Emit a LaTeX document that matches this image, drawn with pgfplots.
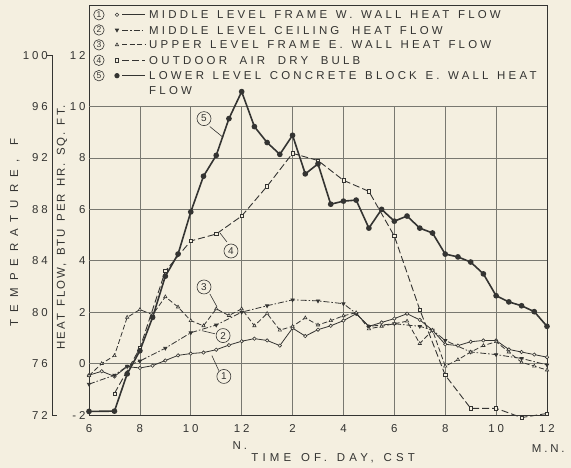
\documentclass[border=0pt]{standalone}
\usepackage{fontspec}
\setmainfont{Liberation Sans}[LetterSpace=25, WordSpace=1.35]
\newfontfamily\plainsf{Liberation Sans}
\usepackage{pgfplots}
\pgfplotsset{compat=1.18}
\usetikzlibrary{backgrounds,calc}
\definecolor{paper}{RGB}{244,239,224}
\definecolor{ink}{RGB}{52,52,50}
\definecolor{gridc}{RGB}{120,120,112}
\newcommand\lett{\fontsize{11.5}{13}\selectfont}
\tikzset{
  numc/.style={draw=ink, line width=0.6bp, circle, minimum size=14bp, inner sep=0pt, font=\plainsf\fontsize{10}{10}\selectfont, text=ink, fill=paper},
  lnumc/.style={draw=ink, line width=0.6bp, circle, minimum size=10.5bp, inner sep=0pt, font=\plainsf\fontsize{8.5}{8.5}\selectfont, text=ink},
  legt/.style={anchor=west, inner sep=0pt, font=\lett\addfontfeatures{LetterSpace=28}, text=ink, text height=8.2bp, text depth=0pt},
  ttl/.style={anchor=east, inner sep=0pt, font=\lett, text=ink},
  leader/.style={draw=ink, line width=0.6bp},
}
\pgfplotsset{
  s1/.style={draw=ink, line width=0.8bp, mark=*, mark size=1.7bp, mark options={solid, fill=paper, draw=ink, line width=0.6bp}},
  s2/.style={draw=ink, line width=0.8bp, dash pattern=on 6bp off 2bp on 1.5bp off 2bp, mark=triangle*, mark size=1.8bp, mark options={solid, rotate=180, fill=ink, draw=ink}},
  s3/.style={draw=ink, line width=0.8bp, dash pattern=on 5bp off 2.5bp, mark=triangle*, mark size=1.9bp, mark options={solid, fill=paper, draw=ink, line width=0.6bp}},
  s4/.style={draw=ink, line width=0.9bp, dash pattern=on 7bp off 3bp, mark=square*, mark size=1.6bp, mark options={solid, fill=paper, draw=ink, line width=0.6bp}},
  s5/.style={draw=ink, line width=1.6bp, mark=*, mark size=2bp, mark options={solid, fill=ink, draw=ink}},
}
\begin{document}
\begin{tikzpicture}
\begin{axis}[name=main, scale only axis, width=458bp, height=410bp,
  xmin=6, xmax=24, ymin=-2, ymax=13.95, clip=false,
  axis line style={draw=ink, line width=0.9bp},
  xtick={6,8,...,24}, xticklabels={6,8,10,12,2,4,6,8,10,12},
  ytick={-2,0,...,12},
  major tick length=0pt,
  /pgf/number format/assume math mode=true,
  tick label style={font=\lett, text=ink},
  xticklabel style={yshift=-6bp},
  xlabel={\addfontfeatures{LetterSpace=36}TIME OF.\ DAY, CST},
  xlabel style={at={(rel axis cs:0.533,0)}, anchor=center, yshift=-43bp, font=\lett, text=ink},
  ylabel={\addfontfeatures{LetterSpace=18}HEAT FLOW, BTU PER HR.\ SQ.\ FT.},
  ylabel style={at={([xshift=-27bp]axis cs:6,5.3)}, anchor=center, font=\lett, text=ink},
]
% grid
\pgfplotsinvokeforeach{8,10,...,22}{\draw[gridc, line width=0.6bp] (axis cs:#1,-2) -- (axis cs:#1,10);}
\pgfplotsinvokeforeach{0,2,...,10}{\draw[gridc, line width=0.6bp] (axis cs:6,#1) -- (axis cs:24,#1);}

% 1 middle level frame W wall
\addplot[s1] coordinates {
(6,-0.45)(6.5,-0.3)(7,-0.5)(7.5,-0.12)(8,-0.17)(8.5,-0.08)(9,0.12)(9.5,0.32)(10,0.39)(10.5,0.43)
(11,0.54)(11.5,0.72)(12,0.87)(12.5,0.97)(13,0.9)(13.5,0.7)(14,1.38)(14.5,1.07)(15,1.32)(15.5,1.47)
(16,1.67)(16.5,1.94)(17,1.45)(17.5,1.6)(18,1.75)(18.5,1.94)(19,1.7)(19.5,1.3)(20,0.75)(20.5,0.7)
(21,0.85)(21.5,0.9)(22,0.9)(22.5,0.55)(23,0.45)(23.5,0.35)(24,0.25)};
% 2 middle level ceiling
\addplot[s2] coordinates {
(6,-0.8)(7,-0.45)(7.5,-0.1)(8,0.1)(9,0.6)(10,1.2)(11,1.5)(12,2.0)(13,2.25)(14,2.48)(15,2.44)
(16,2.33)(16.5,1.95)(17,1.45)(18,1.55)(19,1.45)(19.5,1.3)(20,0.9)(21,0.45)(22,0.35)(23,0.2)(24,-0.05)};
% 3 upper level frame E wall
\addplot[s3] coordinates {
(6,-0.47)(6.5,0.0)(7,0.31)(7.5,1.8)(8,2.1)(8.5,1.9)(9,2.6)(9.5,2.2)(10,1.67)(10.5,1.47)
(11,2.13)(11.5,1.87)(12,2.13)(12.5,1.47)(13,1.95)(13.5,1.3)(14,1.45)(14.5,1.78)(15,1.5)(15.5,1.67)
(16,1.86)(16.5,1.98)(17,1.35)(17.5,1.45)(18,1.55)(18.5,1.65)(19,0.78)(19.5,1.3)(20,-0.1)(20.5,0.15)
(21,0.45)(21.5,0.7)(22,0.85)(22.5,0.45)(23,0.05)(23.5,-0.1)(24,-0.25)};
% 4 outdoor air dry bulb
\addplot[s4] coordinates {
(7,-1.16)(8,0.6)(9,3.6)(10,4.77)(11,5.04)(12,5.74)(13,6.9)(14,8.18)(15,7.9)(16,7.13)(17,6.7)
(18,4.96)(19,2.1)(20,-0.45)(21,-1.74)(22,-1.74)(23,-2.1)(24,-1.94)};
% 5 lower level concrete block E wall
\addplot[s5] coordinates {
(6,-1.86)(7,-1.85)(7.5,-0.4)(8,0.5)(8.5,1.8)(9,3.4)(9.5,4.26)(10,5.9)(10.5,7.29)(11,8.1)
(11.5,9.53)(12,10.58)(12.5,9.22)(13,8.6)(13.5,8.14)(14,8.88)(14.5,7.38)(15,7.77)(15.5,6.2)(16,6.32)
(16.5,6.36)(17,5.27)(17.5,6.0)(18,5.54)(18.5,5.74)(19,5.27)(19.5,5.08)(20,4.26)(20.5,4.15)(21,3.95)
(21.5,3.49)(22,2.64)(22.5,2.4)(23,2.25)(23.5,2.02)(24,1.45)};

% curve labels
\draw[leader] (axis cs:10.75,9.22) -- (axis cs:11.27,8.8);
\node[numc] at (axis cs:10.52,9.53) {5};
\draw[leader] (axis cs:11.42,4.73) -- (axis cs:11.15,5.08);
\node[numc] at (axis cs:11.58,4.38) {4};
\draw[leader] (axis cs:10.75,2.71) -- (axis cs:11.03,2.21);
\node[numc] at (axis cs:10.52,2.98) {3};
\draw[leader] (axis cs:10.95,1.16) -- (axis cs:10.44,1.28);
\node[numc] at (axis cs:11.27,1.09) {2};
\draw[leader] (axis cs:11.1,-0.27) -- (axis cs:10.83,0.31);
\node[numc] at (axis cs:11.3,-0.5) {1};

% legend
\addplot[s1, forget plot, only marks] coordinates {(7.1,13.57)};
\addplot[s1, forget plot, no markers] coordinates {(7.3,13.57)(8.2,13.57)};
\addplot[s2, forget plot, only marks] coordinates {(7.1,12.98)};
\addplot[s2, forget plot, no markers] coordinates {(7.3,12.98)(8.2,12.98)};
\addplot[s3, forget plot, only marks] coordinates {(7.1,12.4)};
\addplot[s3, forget plot, no markers] coordinates {(7.3,12.4)(8.2,12.4)};
\addplot[s4, forget plot, only marks] coordinates {(7.1,11.8)};
\addplot[s4, forget plot, no markers] coordinates {(7.3,11.8)(8.2,11.8)};
\addplot[s5, line width=1.2bp, forget plot, only marks] coordinates {(7.1,11.2)};
\addplot[s5, line width=1.2bp, forget plot, no markers] coordinates {(7.3,11.2)(8.2,11.2)};
\node[lnumc] at (axis cs:6.39,13.57) {1};
\node[lnumc] at (axis cs:6.39,12.98) {2};
\node[lnumc] at (axis cs:6.39,12.4) {3};
\node[lnumc] at (axis cs:6.39,11.8) {4};
\node[lnumc] at (axis cs:6.39,11.2) {5};
\node[legt] at (axis cs:8.36,13.57) {MIDDLE LEVEL FRAME W.\ WALL HEAT FLOW};
\node[legt] at (axis cs:8.36,12.98) {MIDDLE LEVEL CEILING\hspace{4bp} HEAT FLOW};
\node[legt] at (axis cs:8.36,12.4) {UPPER LEVEL FRAME E.\ WALL HEAT FLOW};
\node[legt] at (axis cs:8.36,11.8) {OUTDOOR\hspace{4bp} AIR\hspace{4bp} DRY\hspace{4bp} BULB};
\node[legt] at (axis cs:8.36,11.2) {LOWER LEVEL CONCRETE BLOCK E.\ WALL HEAT};
\node[legt] at (axis cs:8.36,10.62) {FLOW};

% special x labels
\node[font=\lett, text=ink, inner sep=0pt] at ([yshift=-31bp]axis cs:11.93,-2) {N.};
\node[font=\lett, text=ink, inner sep=0pt] at ([yshift=-34bp]axis cs:24.05,-2) {M.N.};

% temperature scale (T = 76 + 2 H)
\draw[ink, line width=0.9bp] ([xshift=-42bp]axis cs:6,12) -- ([xshift=-37bp]axis cs:6,12) -- ([xshift=-37bp]axis cs:6,-2) -- ([xshift=-32bp]axis cs:6,-2);
\node[ttl] at ([xshift=-41bp]axis cs:6,12) {100};
\node[ttl] at ([xshift=-41bp]axis cs:6,10) {96};
\node[ttl] at ([xshift=-41bp]axis cs:6,8) {92};
\node[ttl] at ([xshift=-41bp]axis cs:6,6) {88};
\node[ttl] at ([xshift=-41bp]axis cs:6,4) {84};
\node[ttl] at ([xshift=-41bp]axis cs:6,2) {80};
\node[ttl] at ([xshift=-41bp]axis cs:6,0) {76};
\node[ttl] at ([xshift=-41bp]axis cs:6,-2) {72};
\node[font=\lett, text=ink, rotate=90, inner sep=0pt] at ([xshift=-74bp]axis cs:6,5.1) {\addfontfeatures{LetterSpace=62}TEMPERATURE, F};
\end{axis}

\begin{scope}[on background layer]
\fill[paper] ($(main.south west)+(-89bp,-53bp)$) rectangle ($(main.north east)+(24bp,5bp)$);
\end{scope}
\pgfresetboundingbox
\path[use as bounding box] ($(main.south west)+(-89bp,-53bp)$) rectangle ($(main.north east)+(24bp,5bp)$);
\end{tikzpicture}
\end{document}
